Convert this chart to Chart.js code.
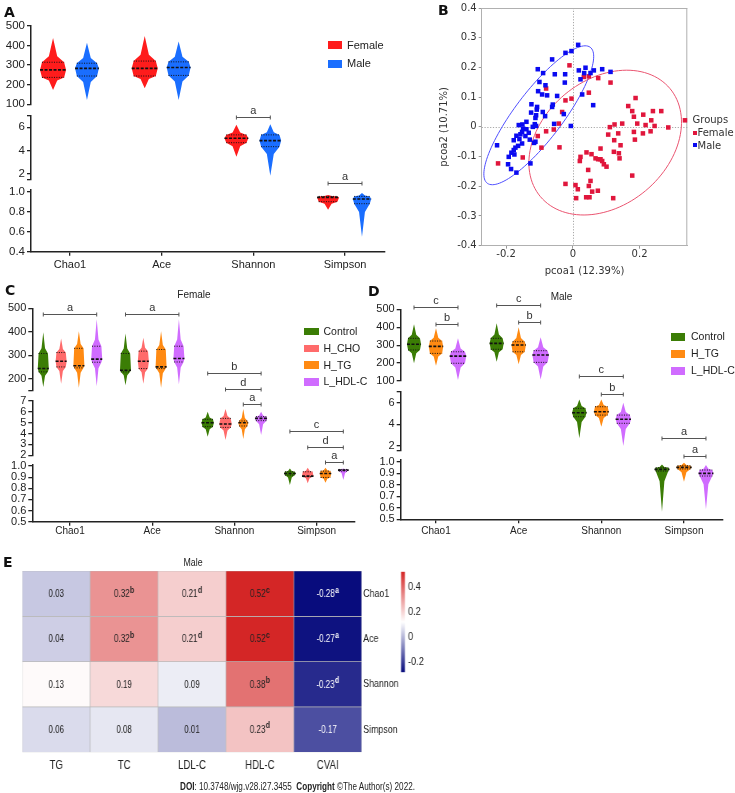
<!DOCTYPE html>
<html>
<head>
<meta charset="utf-8">
<title>Alpha and beta diversity</title>
<script src="https://cdn.jsdelivr.net/npm/chart.js@4.4.1/dist/chart.umd.min.js"></script>
<style>
  body { margin: 0; background: #fff; }
  #page { position: relative; width: 735px; height: 793px; overflow: hidden; font-family: "Liberation Sans", Arial, sans-serif; color: #222; }
  #page canvas, #page div { position: absolute; }
  .tag { font: bold 14px/14px "DejaVu Sans", sans-serif; color: #111; }
  .txt { white-space: nowrap; font-size: 10px; line-height: 12px; }
  .squeeze { transform: scaleX(0.8); transform-origin: 0 0; }
  .foot { white-space: nowrap; font: 11px/12px "Liberation Sans", Arial, sans-serif; color: #222; transform: scaleX(0.74); transform-origin: 0 0; }
</style>
</head>
<body>
<div id="page">
  <canvas id="chartA" width="400" height="280" style="left:0;top:0"></canvas>
  <canvas id="chartB" width="335" height="285" style="left:400px;top:0"></canvas>
  <canvas id="chartC" width="370" height="270" style="left:0;top:280px"></canvas>
  <canvas id="chartD" width="365" height="270" style="left:370px;top:280px"></canvas>
  <!-- the heatmap is drawn wide and squeezed horizontally, like the narrow lettering of the original -->
  <canvas id="chartE" class="squeeze" width="525" height="225" style="left:0;top:556px"></canvas>
  <canvas id="chartCB" class="squeeze" width="75" height="130" style="left:395px;top:556px"></canvas>

  <div class="tag" style="left:4px;top:5px">A</div>
  <div class="tag" style="left:438px;top:3px">B</div>
  <div class="tag" style="left:5px;top:283px">C</div>
  <div class="tag" style="left:368px;top:284px">D</div>
  <div class="tag" style="left:3px;top:555px">E</div>

  <div class="txt" style="left:0;width:388px;text-align:center;top:289px">Female</div>
  <div class="txt" style="left:400px;width:323px;text-align:center;top:291px">Male</div>
  <div class="txt" style="left:0;width:386px;text-align:center;top:556px;font-size:11px;line-height:13px;transform:scaleX(0.8)">Male</div>

  <div id="legends"></div>
  <div class="foot" style="left:180px;top:780px"><b>DOI</b>: 10.3748/wjg.v28.i27.3455&nbsp; <b>Copyright</b> ©The Author(s) 2022.</div>
</div>

<script>
// ---------- data ----------
const metrics = ['Chao1', 'Ace', 'Shannon', 'Simpson'];

// violin summaries per metric: [min, q1, median, q3, max]
const sexNames = ['Female', 'Male'];
const femaleA = [[173, 237, 275, 314, 437], [182, 244, 283, 320, 447], [3.47, 4.67, 5.05, 5.34, 6.2], [0.82, 0.90, 0.943, 0.953, 0.967]];
const maleA = [[122, 244, 283, 309, 413], [122, 247, 287, 316, 419], [1.83, 4.33, 4.85, 5.34, 6.26], [0.55, 0.88, 0.927, 0.953, 0.987]];

const femaleGroups = ['Control', 'H_CHO', 'H_TG', 'L_HDL-C'];
const controlC = [[166, 230, 244, 308, 398], [173, 230, 237, 308, 393], [3.71, 4.64, 5.0, 5.31, 6.02], [0.83, 0.919, 0.934, 0.949, 0.979]];
const hchoC = [[180, 251, 275, 312, 372], [180, 244, 275, 318, 375], [3.41, 4.57, 4.88, 5.4, 6.26], [0.845, 0.905, 0.91, 0.949, 0.985]];
const htgC = [[163, 247, 256, 330, 403], [163, 244, 251, 325, 403], [3.5, 4.7, 5.0, 5.16, 6.26], [0.85, 0.898, 0.934, 0.955, 0.985]];
const lhdlC = [[169, 271, 284, 339, 454], [177, 272, 287, 339, 454], [3.87, 5.19, 5.4, 5.56, 6.0], [0.874, 0.955, 0.964, 0.97, 0.979]];

const maleGroups = ['Control', 'H_TG', 'L_HDL-C'];
const controlD = [[199, 273, 305, 338, 416], [208, 277, 310, 338, 422], [2.71, 4.71, 5.08, 5.48, 6.31], [0.566, 0.919, 0.934, 0.948, 0.977]];
const htgD = [[185, 254, 293, 323, 394], [193, 263, 301, 319, 400], [3.78, 4.86, 5.17, 5.63, 6.31], [0.826, 0.937, 0.951, 0.965, 0.991]];
const lhdlD = [[105, 199, 239, 263, 338], [109, 204, 245, 269, 344], [2.0, 4.1, 4.47, 4.86, 6.0], [0.587, 0.876, 0.899, 0.928, 0.971]];

// significance brackets: [metric, fromGroup, toGroup, letter]
const sigA = [[2, 0, 1, 'a'], [3, 0, 1, 'a']];
const sigC = [[0, 0, 3, 'a'], [1, 0, 3, 'a'], [2, 0, 3, 'b'], [2, 1, 3, 'd'], [2, 2, 3, 'a'], [3, 0, 3, 'c'], [3, 1, 3, 'd'], [3, 2, 3, 'a']];
const sigD = [[0, 0, 2, 'c'], [0, 1, 2, 'b'], [1, 0, 2, 'c'], [1, 1, 2, 'b'], [2, 0, 2, 'c'], [2, 1, 2, 'b'], [3, 0, 2, 'a'], [3, 1, 2, 'a']];

// PCoA coordinates [pcoa1, pcoa2]
const pcoaFemale = [
  [-0.010, 0.207], [-0.080, 0.129], [-0.022, 0.089], [-0.004, 0.095], [-0.032, 0.050], [-0.042, 0.011], [-0.057, -0.009],
  [-0.080, -0.015], [-0.105, -0.031], [-0.094, -0.070], [-0.040, -0.069], [-0.150, -0.103], [-0.224, -0.123], [0.023, -0.101],
  [0.021, -0.115], [-0.022, -0.192], [0.008, -0.196], [0.015, -0.210], [0.010, -0.240], [0.033, 0.168], [0.048, 0.170],
  [0.076, 0.164], [0.113, 0.149], [0.048, 0.115], [0.188, 0.097], [0.166, 0.070], [0.178, 0.053], [0.211, 0.041],
  [0.240, 0.053], [0.265, 0.053], [0.183, 0.034], [0.235, 0.022], [0.193, 0.011], [0.218, 0.006], [0.245, 0.003],
  [0.148, 0.011], [0.125, 0.008], [0.111, -0.001], [0.286, -0.002], [0.336, 0.022], [0.183, -0.017], [0.210, -0.022],
  [0.233, -0.015], [0.136, -0.022], [0.106, -0.026], [0.186, -0.043], [0.124, -0.045], [0.143, -0.062], [0.083, -0.073],
  [0.123, -0.084], [0.138, -0.089], [0.140, -0.106], [0.041, -0.086], [0.056, -0.092], [0.068, -0.106], [0.076, -0.109],
  [0.083, -0.109], [0.088, -0.115], [0.093, -0.126], [0.101, -0.134], [0.046, -0.145], [0.178, -0.164], [0.053, -0.182],
  [0.048, -0.199], [0.058, -0.218], [0.075, -0.215], [0.040, -0.237], [0.050, -0.237], [0.121, -0.240]
];
const pcoaMale = [
  [0.016, 0.276], [-0.004, 0.255], [-0.022, 0.249], [-0.062, 0.227], [-0.105, 0.194], [-0.089, 0.181], [-0.054, 0.177],
  [-0.023, 0.177], [0.018, 0.190], [0.034, 0.181], [0.038, 0.199], [0.053, 0.181], [0.063, 0.190], [0.088, 0.194],
  [0.113, 0.185], [-0.100, 0.151], [-0.082, 0.140], [-0.024, 0.149], [0.023, 0.160], [-0.104, 0.120], [-0.092, 0.109],
  [-0.077, 0.106], [-0.047, 0.104], [0.028, 0.109], [0.061, 0.073], [-0.124, 0.076], [-0.107, 0.067], [-0.108, 0.058],
  [-0.060, 0.075], [-0.062, 0.067], [-0.125, 0.048], [-0.110, 0.039], [-0.112, 0.030], [-0.090, 0.050], [-0.083, 0.036],
  [-0.027, 0.043], [-0.139, 0.017], [-0.114, 0.009], [-0.120, 0.000], [-0.110, 0.003], [-0.162, 0.006], [-0.151, 0.008],
  [-0.149, -0.006], [-0.139, -0.008], [-0.056, 0.010], [-0.006, 0.003], [-0.152, -0.017], [-0.157, -0.025], [-0.169, -0.030],
  [-0.160, -0.041], [-0.177, -0.045], [-0.132, -0.020], [-0.142, -0.031], [-0.129, -0.043], [-0.116, -0.054], [-0.112, -0.050],
  [-0.164, -0.064], [-0.172, -0.070], [-0.177, -0.078], [-0.152, -0.056], [-0.227, -0.062], [-0.184, -0.087], [-0.175, -0.093],
  [-0.192, -0.101], [-0.194, -0.126], [-0.185, -0.142], [-0.169, -0.154], [-0.127, -0.123]
];
// confidence ellipses: centre and two semi-axis vectors, in data units
const ellipseFemale = { center: [0.097, -0.053], u: [0.194, 0.182], v: [-0.121, 0.162] };
const ellipseMale = { center: [-0.102, 0.039], u: [0.154, 0.229], v: [0.058, -0.047] };
const pcoaXTicks = [-0.2, 0, 0.2];
const pcoaYTicks = [-0.4, -0.3, -0.2, -0.1, 0, 0.1, 0.2, 0.3, 0.4];

// correlation heatmap (male)
const heatCols = ['TG', 'TC', 'LDL-C', 'HDL-C', 'CVAI'];
const heatRows = ['Chao1', 'Ace', 'Shannon', 'Simpson'];
const corrChao1 = [0.03, 0.32, 0.21, 0.52, -0.28];
const corrAce = [0.04, 0.32, 0.21, 0.52, -0.27];
const corrShannon = [0.13, 0.19, 0.09, 0.38, -0.23];
const corrSimpson = [0.06, 0.08, 0.01, 0.23, -0.17];
const supChao1 = ['', 'b', 'd', 'c', 'a'];
const supAce = ['', 'b', 'd', 'c', 'a'];
const supShannon = ['', '', '', 'b', 'd'];
const supSimpson = ['', '', '', 'd', ''];
const colorbarTicks = [-0.2, 0, 0.2, 0.4];

// ---------- styles ----------
const sans = '"Liberation Sans", Arial, sans-serif';
const dejavu = '"DejaVu Sans", Verdana, sans-serif';
Chart.defaults.font.family = sans;
Chart.defaults.color = '#222';
Chart.defaults.animation = false;
Chart.defaults.events = [];

const sexColors = ['#ff1c1c', '#1a6eff'];
const femaleColors = ['#3b7d05', '#ff6b6b', '#ff8a12', '#d06cff'];
const maleColors = ['#3b7d05', '#ff8a12', '#d06cff'];
const violinShape = [0, 0.32, 0.85, 1, 0.85, 0.32, 0];
const tailFraction = 0.25;
const segOfMetric = ['yTop', 'yTop', 'yMid', 'yBot'];

// ---------- violin plugin ----------
const violinPlugin = {
  id: 'violins',
  afterDatasetsDraw(chart, args, opts) {
    const ctx = chart.ctx;
    const xs = chart.scales.x;
    chart.data.datasets.forEach(ds => {
      const ys = chart.scales[ds.yAxisID];
      const [lo, q1, med, q3, hi] = ds.stats;
      const pos = ds.data[0].x;
      const levels = [lo, q1 - tailFraction * (q1 - lo), q1, med, q3, q3 + tailFraction * (hi - q3), hi];
      const cx = xs.getPixelForValue(pos);
      const hw = xs.getPixelForValue(pos + ds.halfWidth) - cx;
      const py = levels.map(v => ys.getPixelForValue(v));
      ctx.save();
      ctx.fillStyle = ds.color;
      ctx.beginPath();
      ctx.moveTo(cx, py[0]);
      for (let i = 1; i < levels.length; i++) ctx.lineTo(cx + hw * violinShape[i], py[i]);
      for (let i = levels.length - 2; i > 0; i--) ctx.lineTo(cx - hw * violinShape[i], py[i]);
      ctx.closePath();
      ctx.fill();
      ctx.strokeStyle = '#111';
      ctx.lineWidth = 1;
      ctx.setLineDash([1, 1.4]);
      [2, 4].forEach(i => {
        ctx.beginPath();
        ctx.moveTo(cx - hw * violinShape[i], py[i]);
        ctx.lineTo(cx + hw * violinShape[i], py[i]);
        ctx.stroke();
      });
      ctx.lineWidth = 1.6;
      ctx.setLineDash([3, 1.5]);
      ctx.beginPath();
      ctx.moveTo(cx - hw, py[3]);
      ctx.lineTo(cx + hw, py[3]);
      ctx.stroke();
      ctx.restore();
    });

    (opts.brackets || []).forEach(b => {
      const x1 = xs.getPixelForValue(b.from);
      const x2 = xs.getPixelForValue(b.to);
      const y = Math.round(chart.scales[b.axis].getPixelForValue(b.y)) + 0.5;
      ctx.save();
      ctx.strokeStyle = '#555';
      ctx.lineWidth = 1;
      ctx.beginPath();
      ctx.moveTo(x1, y); ctx.lineTo(x2, y);
      ctx.moveTo(x1, y - 2); ctx.lineTo(x1, y + 2);
      ctx.moveTo(x2, y - 2); ctx.lineTo(x2, y + 2);
      ctx.stroke();
      ctx.fillStyle = '#333';
      ctx.font = '11px ' + sans;
      ctx.textAlign = 'center';
      ctx.textBaseline = 'alphabetic';
      ctx.fillText(b.label, (x1 + x2) / 2, y - 3.5);
      ctx.restore();
    });
  }
};

function violinDatasets(groups, offsets, colors, widths) {
  const sets = [];
  groups.forEach((g, gi) => g.forEach((st, mi) => sets.push({
    type: 'scatter',
    yAxisID: segOfMetric[mi],
    data: [{ x: mi + offsets[gi], y: st[2] }],
    stats: st,
    halfWidth: widths[gi][mi],
    color: colors[gi],
    pointRadius: 0
  })));
  return sets;
}

function bracketList(sig, offsets, levels) {
  return sig.map((s, i) => ({
    from: s[0] + offsets[s[1]], to: s[0] + offsets[s[2]],
    axis: levels[i][0], y: levels[i][1], label: s[3]
  }));
}

function violinChart(id, o) {
  const axisLine = { color: '#222', width: 1.5 };
  const tickGrid = { drawOnChartArea: false, tickLength: 4, color: '#222', lineWidth: 1.3 };
  const scales = {
    x: {
      type: 'linear', min: o.xMin, max: o.xMax,
      afterBuildTicks: s => { s.ticks = metrics.map((m, i) => ({ value: i })); },
      afterFit: s => { s.height = o.xHeight; },
      ticks: { callback: v => metrics[v], font: { size: o.xFont }, color: '#222', padding: o.xPad, maxRotation: 0, autoSkip: false },
      grid: tickGrid, border: axisLine
    }
  };
  // Chart.js stacks left axes top-down from the last defined one, so add bottom first
  o.segments.slice().reverse().forEach(seg => {
    if (seg.gap) {
      scales[seg.id] = {
        type: 'linear', position: 'left', stack: 'v', stackWeight: seg.weight, min: 0, max: 1,
        afterFit: s => { s.width = o.yWidth; },
        ticks: { display: false }, grid: { display: false, drawTicks: false }, border: { display: false }
      };
      return;
    }
    scales[seg.id] = {
      type: 'linear', position: 'left', stack: 'v', stackWeight: seg.weight, min: seg.min, max: seg.max,
      afterBuildTicks: s => { s.ticks = seg.caps.concat(seg.labels).map(v => ({ value: v })); },
      afterFit: s => { s.width = o.yWidth; },
      ticks: {
        callback: v => seg.labels.includes(v) ? (seg.digits ? v.toFixed(seg.digits) : String(v)) : '',
        font: { size: o.yFont }, color: '#222', padding: 2, autoSkip: false
      },
      grid: tickGrid, border: axisLine
    };
  });
  return new Chart(document.getElementById(id), {
    type: 'scatter',
    data: { datasets: o.datasets },
    options: {
      responsive: false,
      layout: { padding: o.padding },
      plugins: { legend: { display: false }, tooltip: { enabled: false }, violins: { brackets: o.brackets } },
      scales
    },
    plugins: [violinPlugin]
  });
}

// ---------- panel A ----------
const offsetsA = [-0.185, 0.185];
const widthA = [[0.142, 0.142, 0.13, 0.12], [0.13, 0.13, 0.118, 0.1]];
violinChart('chartA', {
  xMin: -0.4255, xMax: 3.436, xHeight: 28.3, xFont: 11, xPad: 2.7, yWidth: 31, yFont: 11.5,
  padding: { left: 0, top: 25.7, right: 15, bottom: 0 },
  segments: [
    { id: 'yTop', min: 100, max: 500, weight: 78.6, labels: [100, 200, 300, 400, 500], caps: [] },
    { id: 'gap1', gap: true, weight: 11.7 },
    { id: 'yMid', min: 1.47, max: 6.96, weight: 64, labels: [2, 4, 6], caps: [1.47, 6.96] },
    { id: 'gap2', gap: true, weight: 10 },
    { id: 'yBot', min: 0.4, max: 1.017, weight: 61.7, labels: [0.4, 0.6, 0.8, 1.0], caps: [], digits: 1 }
  ],
  datasets: violinDatasets([femaleA, maleA], offsetsA, sexColors, widthA),
  brackets: bracketList(sigA, offsetsA, [['yMid', 6.9], ['yBot', 1.084]])
});

// ---------- panel C ----------
const offsetsC = [-0.325, -0.108, 0.108, 0.325];
const widthC = [[0.067, 0.067, 0.075, 0.071], [0.067, 0.067, 0.075, 0.07], [0.067, 0.067, 0.06, 0.07], [0.067, 0.067, 0.075, 0.065]];
violinChart('chartC', {
  xMin: -0.4586, xMax: 3.467, xHeight: 28.3, xFont: 10, xPad: 0, yWidth: 32.3, yFont: 11,
  padding: { left: 0, top: 28.3, right: 15, bottom: 0 },
  segments: [
    { id: 'yTop', min: 150, max: 500, weight: 82.4, labels: [200, 300, 400, 500], caps: [150] },
    { id: 'gap1', gap: true, weight: 10.3 },
    { id: 'yMid', min: 2, max: 7, weight: 54.3, labels: [2, 3, 4, 5, 6, 7], caps: [] },
    { id: 'gap2', gap: true, weight: 9.7 },
    { id: 'yBot', min: 0.5, max: 1.01, weight: 56.7, labels: [0.5, 0.6, 0.7, 0.8, 0.9, 1.0], caps: [], digits: 1 }
  ],
  datasets: violinDatasets([controlC, hchoC, htgC, lhdlC], offsetsC, femaleColors, widthC),
  brackets: bracketList(sigC, offsetsC, [['yTop', 474.5], ['yTop', 474.5], ['yTop', 226], ['yTop', 157], ['yMid', 6.72], ['yMid', 4.27], ['yMid', 2.74], ['yBot', 1.034]])
});

// ---------- panel D ----------
const offsetsD = [-0.266, 0, 0.266];
const widthD = [[0.085, 0.085, 0.087, 0.09], [0.087, 0.087, 0.09, 0.093], [0.1, 0.1, 0.093, 0.09]];
violinChart('chartD', {
  xMin: -0.427, xMax: 3.472, xHeight: 30.7, xFont: 10, xPad: 2.4, yWidth: 30.7, yFont: 11,
  padding: { left: 0, top: 29.3, right: 12, bottom: 0 },
  segments: [
    { id: 'yTop', min: 100, max: 500, weight: 71.7, labels: [100, 200, 300, 400, 500], caps: [] },
    { id: 'gap1', gap: true, weight: 10.7 },
    { id: 'yMid', min: 1.54, max: 7.02, weight: 59.3, labels: [2, 4, 6], caps: [1.54, 7.02] },
    { id: 'gap2', gap: true, weight: 9 },
    { id: 'yBot', min: 0.5, max: 1.015, weight: 59.3, labels: [0.5, 0.6, 0.7, 0.8, 0.9, 1.0], caps: [], digits: 1 }
  ],
  datasets: violinDatasets([controlD, htgD, lhdlD], offsetsD, maleColors, widthD),
  brackets: bracketList(sigD, offsetsD, [['yTop', 513], ['yTop', 418], ['yTop', 524], ['yTop', 427], ['yTop', 129.5], ['yMid', 6.78], ['yMid', 2.77], ['yBot', 1.05]])
});

// ---------- panel B ----------
const pcoaPlugin = {
  id: 'pcoaFrame',
  beforeDatasetsDraw(chart, args, opts) {
    const { ctx, chartArea: a } = chart;
    const xs = chart.scales.x, ys = chart.scales.y;
    ctx.save();
    ctx.strokeStyle = '#a8a8a8';
    ctx.lineWidth = 1;
    ctx.setLineDash([1.2, 1.6]);
    const x0 = Math.round(xs.getPixelForValue(0)) + 0.5;
    const y0 = Math.round(ys.getPixelForValue(0)) + 0.5;
    ctx.beginPath();
    ctx.moveTo(x0, a.top); ctx.lineTo(x0, a.bottom);
    ctx.moveTo(a.left, y0); ctx.lineTo(a.right, y0);
    ctx.stroke();
    ctx.setLineDash([]);
    ctx.strokeStyle = '#b0b0b0';
    ctx.beginPath();
    ctx.moveTo(a.left, a.top + 0.5); ctx.lineTo(a.right, a.top + 0.5);
    ctx.moveTo(a.right - 0.5, a.top); ctx.lineTo(a.right - 0.5, a.bottom);
    ctx.stroke();
    opts.ellipses.forEach(e => {
      ctx.strokeStyle = e.color;
      ctx.lineWidth = 1;
      ctx.beginPath();
      for (let k = 0; k <= 120; k++) {
        const t = k / 120 * Math.PI * 2;
        const px = xs.getPixelForValue(e.shape.center[0] + e.shape.u[0] * Math.cos(t) + e.shape.v[0] * Math.sin(t));
        const py = ys.getPixelForValue(e.shape.center[1] + e.shape.u[1] * Math.cos(t) + e.shape.v[1] * Math.sin(t));
        k ? ctx.lineTo(px, py) : ctx.moveTo(px, py);
      }
      ctx.stroke();
    });
    ctx.restore();
  }
};

const pcoaFmt = v => v === 0 ? '0' : v.toFixed(1);
new Chart(document.getElementById('chartB'), {
  type: 'scatter',
  data: {
    datasets: [
      { label: 'Male', data: pcoaMale.map(([x, y]) => ({ x, y })), backgroundColor: '#0a0af0', pointStyle: 'rect', pointRadius: 3.2, borderWidth: 0, clip: false },
      { label: 'Female', data: pcoaFemale.map(([x, y]) => ({ x, y })), backgroundColor: '#e0163c', pointStyle: 'rect', pointRadius: 3.2, borderWidth: 0, clip: false }
    ]
  },
  options: {
    responsive: false,
    layout: { padding: { left: 34, top: 7.3, right: 47.7, bottom: 4 } },
    plugins: {
      legend: { display: false }, tooltip: { enabled: false },
      pcoaFrame: { ellipses: [{ shape: ellipseMale, color: '#4f4fff' }, { shape: ellipseFemale, color: '#ea5470' }] }
    },
    scales: {
      x: {
        type: 'linear', min: -0.273, max: 0.343,
        afterBuildTicks: s => { s.ticks = pcoaXTicks.map(v => ({ value: v })); },
        afterFit: s => { s.height = 35.3; },
        ticks: { callback: pcoaFmt, font: { family: dejavu, size: 10 }, color: '#333', padding: 0, maxRotation: 0 },
        grid: { drawOnChartArea: false, tickLength: 3, color: '#999' },
        border: { color: '#b0b0b0', width: 1 },
        title: { display: true, text: 'pcoa1 (12.39%)', font: { family: dejavu, size: 10 }, color: '#333', padding: { top: 2, bottom: 4 } }
      },
      y: {
        type: 'linear', min: -0.4, max: 0.4,
        afterBuildTicks: s => { s.ticks = pcoaYTicks.map(v => ({ value: v })); },
        afterFit: s => { s.width = 47.7; },
        ticks: { callback: pcoaFmt, font: { family: dejavu, size: 10 }, color: '#333', padding: 2 },
        grid: { drawOnChartArea: false, tickLength: 3, color: '#999' },
        border: { color: '#b0b0b0', width: 1 },
        title: { display: true, text: 'pcoa2 (10.71%)', font: { family: dejavu, size: 10 }, color: '#333', padding: { top: 4, bottom: 2 } }
      }
    }
  },
  plugins: [pcoaPlugin]
});

// ---------- panel E ----------
const corrRows = [corrChao1, corrAce, corrShannon, corrSimpson];
const supRows = [supChao1, supAce, supShannon, supSimpson];
const allCorr = corrRows.flat();
const heatMin = Math.min(...allCorr), heatMax = Math.max(...allCorr), heatMid = (heatMin + heatMax) / 2;
const lowRGB = [8, 12, 125], midRGB = [255, 255, 255], highRGB = [212, 38, 38];
function colorFor(v) {
  const below = v < heatMid;
  const t = below ? (heatMid - v) / (heatMid - heatMin) : (v - heatMid) / (heatMax - heatMid);
  const end = below ? lowRGB : highRGB;
  const c = midRGB.map((m, i) => Math.round(m + (end[i] - m) * t));
  return `rgb(${c[0]},${c[1]},${c[2]})`;
}

const cellLabelPlugin = {
  id: 'cellLabels',
  afterDatasetsDraw(chart) {
    const ctx = chart.ctx;
    chart.data.datasets.forEach((ds, r) => {
      chart.getDatasetMeta(r).data.forEach((bar, c) => {
        const { x, y, base } = bar.getProps(['x', 'y', 'base'], true);
        const cy = (y + base) / 2;
        const val = ds.values[c];
        const txt = val.toFixed(2);
        const sup = ds.sup[c];
        ctx.save();
        ctx.font = '10px ' + sans;
        const w1 = ctx.measureText(txt).width;
        ctx.font = 'bold 8.5px ' + sans;
        const w2 = sup ? ctx.measureText(sup).width + 0.5 : 0;
        const x0 = x - (w1 + w2) / 2;
        ctx.fillStyle = val < heatMid - (heatMid - heatMin) * 0.5 ? '#fff' : '#222';
        ctx.textBaseline = 'middle';
        ctx.textAlign = 'left';
        ctx.font = '10px ' + sans;
        ctx.fillText(txt, x0, cy + 0.5);
        if (sup) {
          ctx.font = 'bold 8.5px ' + sans;
          ctx.fillText(sup, x0 + w1 + 0.5, cy - 3.5);
        }
        ctx.restore();
      });
    });
  }
};

new Chart(document.getElementById('chartE'), {
  type: 'bar',
  data: {
    labels: heatCols,
    datasets: heatRows.map((row, r) => ({
      label: row,
      data: heatCols.map(() => [r, r + 1]),
      values: corrRows[r],
      sup: supRows[r],
      backgroundColor: corrRows[r].map(colorFor),
      borderColor: '#b8b8b8', borderWidth: 0.7, borderSkipped: false,
      grouped: false, barPercentage: 1, categoryPercentage: 1
    }))
  },
  options: {
    responsive: false,
    layout: { padding: { left: 27.9, top: 15, right: 0, bottom: 0 } },
    plugins: { legend: { display: false }, tooltip: { enabled: false } },
    scales: {
      x: {
        grid: { display: false, drawTicks: false }, border: { display: false },
        ticks: { font: { size: 12 }, color: '#222', padding: 6.5, maxRotation: 0 },
        afterFit: s => { s.height = 28.7; }
      },
      y: {
        type: 'linear', position: 'right', reverse: true, min: 0, max: heatRows.length,
        afterBuildTicks: s => { s.ticks = heatRows.map((row, i) => ({ value: i + 0.5 })); },
        afterFit: s => { s.width = 72.9; },
        ticks: { callback: v => heatRows[Math.floor(v)], font: { size: 11 }, color: '#222', padding: 2 },
        grid: { display: false, drawTicks: false }, border: { display: false }
      }
    }
  },
  plugins: [cellLabelPlugin]
});

new Chart(document.getElementById('chartCB'), {
  type: 'bar',
  data: {
    labels: [''],
    datasets: [{
      data: [[heatMin, heatMax]],
      barPercentage: 1, categoryPercentage: 1, borderWidth: 0,
      backgroundColor: c => {
        const ch = c.chart;
        if (!ch.chartArea) return '#fff';
        const ys = ch.scales.y;
        const g = ch.ctx.createLinearGradient(0, ys.getPixelForValue(heatMax), 0, ys.getPixelForValue(heatMin));
        g.addColorStop(0, colorFor(heatMax));
        g.addColorStop(0.5, colorFor(heatMid));
        g.addColorStop(1, colorFor(heatMin));
        return g;
      }
    }]
  },
  options: {
    responsive: false,
    layout: { padding: { left: 7.5, top: 15.7, right: 0, bottom: 13.7 } },
    plugins: { legend: { display: false }, tooltip: { enabled: false } },
    scales: {
      x: { display: false },
      y: {
        position: 'right', min: heatMin, max: heatMax,
        afterBuildTicks: s => { s.ticks = colorbarTicks.map(v => ({ value: v })); },
        afterFit: s => { s.width = 62.5; },
        ticks: { callback: v => v === 0 ? '0' : v.toFixed(1), font: { size: 11.5 }, color: '#222', padding: 3.75 },
        grid: { display: false, drawTicks: false }, border: { display: false }
      }
    }
  }
});

// ---------- legends (html) ----------
const legendBox = document.getElementById('legends');
function addDiv(style, text) {
  const d = document.createElement('div');
  d.setAttribute('style', style);
  if (text) d.textContent = text;
  legendBox.appendChild(d);
}
function swatchLegend(names, colors, o) {
  names.forEach((name, i) => {
    const cy = o.y0 + i * o.dy;
    addDiv(`left:${o.sx}px;top:${cy - o.sh / 2}px;width:${o.sw}px;height:${o.sh}px;background:${colors[i]}`);
    addDiv(`left:${o.tx}px;top:${cy - 6.5}px;font-size:${o.fs}px;line-height:13px;white-space:nowrap;color:#222`, name);
  });
}
swatchLegend(sexNames, sexColors, { sx: 328, sw: 14, sh: 8, tx: 347, y0: 45.4, dy: 18.2, fs: 11 });
swatchLegend(femaleGroups, femaleColors, { sx: 303.5, sw: 15.5, sh: 7.5, tx: 323.5, y0: 331.7, dy: 16.7, fs: 10.5 });
swatchLegend(maleGroups, maleColors, { sx: 671, sw: 14, sh: 8, tx: 691, y0: 336.7, dy: 17, fs: 10.5 });

addDiv(`left:692.5px;top:112.5px;font:10px/13px ${dejavu};color:#333;white-space:nowrap`, 'Groups');
['Female', 'Male'].forEach((name, i) => {
  const cy = 132.7 + i * 12.6;
  addDiv(`left:693px;top:${cy - 2}px;width:4px;height:4px;background:${i ? '#0a0af0' : '#e0163c'}`);
  addDiv(`left:697.5px;top:${cy - 6.5}px;font:10px/13px ${dejavu};color:#333;white-space:nowrap`, name);
});
</script>
</body>
</html>
